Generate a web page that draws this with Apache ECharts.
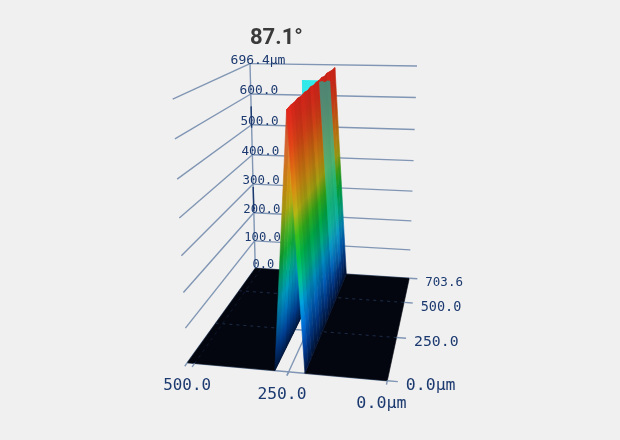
<!DOCTYPE html>
<html>
<head>
<meta charset="utf-8">
<style>
  html, body { margin: 0; padding: 0; background: #f0f0f0; }
  #chart { width: 620px; height: 440px; filter: blur(0.5px); }
</style>
<script src="https://cdn.jsdelivr.net/npm/echarts@6/dist/echarts.min.js"></script>
</head>
<body>
<div id="chart"></div>
<script>
// axis ranges in um
const xMax = 520;
const yMax = 703.6;
const zMax = 696.4;

const xTicks = [0, 250, 500];
const xTickLabels = ['0.0µm', '250.0', '500.0'];
const yTicks = [0, 250, 500, 703.6];
const yTickLabels = ['0.0µm', '250.0', '500.0', '703.6'];
const zTicks = [0, 100, 200, 300, 400, 500, 600, 696.4];
const zTickLabels = ['0.0', '100.0', '200.0', '300.0', '400.0', '500.0', '600.0', '696.4µm'];

// ridge, one entry per y station
const ridgeY = [0, 44, 88, 132, 176, 220, 264, 308, 352, 396, 440, 484, 528, 572, 616, 660, 703.6];
const ridgeTopX = [247, 246, 248, 248, 249, 249, 250, 250, 251, 251, 252, 252, 252, 252, 252, 251, 250];
const ridgeTopZ = [678, 682, 680, 684, 681, 685, 682, 686, 683, 686, 684, 687, 684, 688, 686, 686, 688];
const rightFootX = [208, 208, 208, 208, 208, 208, 208, 208, 208, 208, 208, 208, 208, 208, 208, 208, 208];
const leftFootX = [286, 286, 286, 286, 286, 286, 286, 286, 286, 286, 286, 286, 286, 286, 286, 286, 286];
const rightShade = [1.28, 1.12, 1.0, 0.94, 1.06, 0.97, 0.9, 1.08, 0.96, 0.92, 1.08, 1.0, 0.92, 1.05, 0.96, 0.92, 0.84];
const leftShade = [0.9, 1.04, 1.1, 1.02, 0.98, 1.02, 0.96, 1.0, 1.0, 1.0, 1.0, 1.0, 1.0, 1.0, 1.0, 1.0, 1.0];

// height colours, low to high
const rightColors = ['#001030', '#003078', '#0058ac', '#0084b4', '#00a078', '#00a040', '#30a018', '#9a9a10',
  '#b87c10', '#c05c10', '#c63c14', '#c82a18', '#cc2218'];
const leftColors = ['#001840', '#003a88', '#0068ac', '#0090b0', '#00a078', '#10a030', '#50a820', '#a8a010',
  '#c89010', '#d87c20', '#e06a30', '#d84c28', '#d03020'];

// cyan cut plane at the back of the ridge
const cutPlaneX = [263, 354];
const cutPlaneTopZ = 648;
const stripFirst = 10;
const stripCap = [0.994, 0.985, 0.975, 0.968, 0.96];

const gridColor = '#8096b4';
const labelColor = '#1c3a70';
const floorColor = '#03060f';

// perspective camera fitted to the corners of the box
function depth(x, y, z) {
  const u = x / xMax, v = y / yMax, w = z / zMax;
  return 1 + 0.05073 * u + 0.3211 * v - 0.1044 * w;
}
function project(p) {
  const u = p[0] / xMax, v = p[1] / yMax, w = p[2] / zMax;
  const d = depth(p[0], p[1], p[2]);
  return [
    (387.3 - 190.5 * u + 153.42 * v - 33.36 * w) / d,
    (380.7 + 0.4 * u - 13.04 * v - 287.36 * w) / d
  ];
}

function shadeColor(color, k) {
  const c = echarts.color.parse(color);
  return 'rgb(' + [0, 1, 2].map(i => Math.min(255, Math.round(c[i] * k))).join(',') + ')';
}

// one polygon per y station, coloured by height along the slope
function sheetPolygons(footX, colors, shades) {
  const out = [];
  for (let i = 0; i < ridgeY.length - 1; i++) {
    const top = (ridgeTopZ[i] + ridgeTopZ[i + 1]) / 2;
    const stops = colors.map((c, k) => {
      const t = k / (colors.length - 1);
      return { offset: Math.min(1, t * zMax / top), color: shadeColor(c, 1 + (shades[i] - 1) * (1 - 0.6 * t)) };
    });
    out.push({
      points: [
        [footX[i], ridgeY[i], 0], [footX[i + 1], ridgeY[i + 1], 0],
        [ridgeTopX[i + 1], ridgeY[i + 1], ridgeTopZ[i + 1]], [ridgeTopX[i], ridgeY[i], ridgeTopZ[i]]
      ],
      stops: stops
    });
  }
  return out;
}

function columnGradient(px, stops) {
  const foot = [(px[0][0] + px[1][0]) / 2, (px[0][1] + px[1][1]) / 2];
  const top = [(px[2][0] + px[3][0]) / 2, (px[2][1] + px[3][1]) / 2];
  const across = [(px[1][0] + px[2][0] - px[0][0] - px[3][0]) / 2, (px[1][1] + px[2][1] - px[0][1] - px[3][1]) / 2];
  const n = Math.hypot(across[0], across[1]);
  const g = [-across[1] / n, across[0] / n];
  const len = (top[0] - foot[0]) * g[0] + (top[1] - foot[1]) * g[1];
  return new echarts.graphic.LinearGradient(foot[0], foot[1], foot[0] + g[0] * len, foot[1] + g[1] * len, stops, true);
}

function stripPolygon() {
  const caps = [], feet = [];
  stripCap.forEach((cap, k) => {
    const s = stripFirst + k;
    caps.push([rightFootX[s] + (ridgeTopX[s] - rightFootX[s]) * cap, ridgeY[s], ridgeTopZ[s] * cap]);
    feet.unshift([rightFootX[s] + (ridgeTopX[s] - rightFootX[s]) * 0.12, ridgeY[s], ridgeTopZ[s] * 0.12]);
  });
  return {
    points: caps.concat(feet),
    fill: new echarts.graphic.LinearGradient(0, 0, 0, 1, [
      { offset: 0, color: 'rgba(30,170,150,0.72)' },
      { offset: 0.45, color: 'rgba(30,190,170,0.6)' },
      { offset: 0.75, color: 'rgba(40,200,220,0.28)' },
      { offset: 1, color: 'rgba(40,200,220,0)' }
    ])
  };
}

function polygonSeries(name, z, polygons) {
  return {
    type: 'custom', name: name, coordinateSystem: 'cartesian2d', silent: true, animation: false, z: z,
    data: polygons.map((_, i) => [i]),
    renderItem: (params, api) => {
      const poly = polygons[params.dataIndex];
      const px = poly.points.map(p => api.coord(project(p)));
      const fill = poly.stops ? columnGradient(px, poly.stops) : poly.fill;
      return {
        type: 'polygon',
        shape: { points: px },
        style: { fill: fill, stroke: poly.stops || poly.solid ? fill : null, lineWidth: poly.stops || poly.solid ? 0.6 : 0 }
      };
    }
  };
}

function lineSeries(name, z, lines) {
  return {
    type: 'custom', name: name, coordinateSystem: 'cartesian2d', silent: true, animation: false, z: z,
    data: lines.map((_, i) => [i]),
    renderItem: (params, api) => {
      const l = lines[params.dataIndex];
      const a = api.coord(project(l.from)), b = api.coord(project(l.to));
      return {
        type: 'line',
        shape: { x1: a[0], y1: a[1], x2: b[0], y2: b[1] },
        style: { stroke: l.color || gridColor, lineWidth: l.width || 1.4, lineDash: l.dash || null }
      };
    }
  };
}

function labelSeries(name, z, labels) {
  return {
    type: 'custom', name: name, coordinateSystem: 'cartesian2d', silent: true, animation: false, z: z,
    data: labels.map((_, i) => [i]),
    renderItem: (params, api) => {
      const l = labels[params.dataIndex];
      const a = api.coord(project(l.at));
      return {
        type: 'text',
        x: a[0] + l.dx, y: a[1] + l.dy,
        style: {
          text: l.text, fill: labelColor, align: l.align, verticalAlign: 'middle',
          font: (16.5 / depth(l.at[0], l.at[1], l.at[2])).toFixed(1) + 'px "DejaVu Sans Mono"'
        }
      };
    }
  };
}

// walls, axis and the floor grid that shows through the notch
const backLines = [];
zTicks.forEach(z => {
  backLines.push({ from: [xMax, yMax, z], to: [0, yMax, z] });
  backLines.push({ from: [xMax, yMax, z], to: [xMax, 0, z] });
});
backLines.push({ from: [xMax, yMax, 0], to: [xMax, yMax, zMax] });
backLines.push({ from: [xMax, yMax, 490], to: [xMax, yMax, 560], color: '#1c3a70' });
backLines.push({ from: [xMax, yMax, 205], to: [xMax, yMax, 290], color: '#1c3a70' });
backLines.push({ from: [0, 0, 0], to: [xMax, 0, 0] });
backLines.push({ from: [250, -20, 0], to: [250, 250, 0] });
backLines.push({ from: [208, 250, 0], to: [286, 250, 0] });

const floorPolygons = [
  { points: [[0, 0, 0], [208, 0, 0], [208, yMax, 0], [0, yMax, 0]], fill: floorColor, solid: true },
  { points: [[286, 0, 0], [xMax, 0, 0], [xMax, yMax, 0], [286, yMax, 0]], fill: floorColor, solid: true }
];

const floorDash = [];
[250, 500].forEach(y => {
  floorDash.push({ from: [0, y, 0], to: [208, y, 0], color: '#1c2c48', width: 1, dash: [3, 4] });
  floorDash.push({ from: [286, y, 0], to: [xMax, y, 0], color: '#1c2c48', width: 1, dash: [3, 4] });
});
floorDash.push({ from: [500, 0, 0], to: [500, yMax, 0], color: '#10182c', width: 1, dash: [3, 4] });

const tickLines = [];
xTicks.forEach(x => tickLines.push({ from: [x, 0, 0], to: [x, -20, 0] }));
tickLines.push({ from: [xMax, 0, 0], to: [xMax, -20, 0] });
yTicks.forEach(y => tickLines.push({ from: [0, y, 0], to: [-26, y, 0] }));

const labels = [];
xTicks.forEach((x, i) => labels.push({ at: [x, -20, 0], text: xTickLabels[i], dx: -5, dy: 19, align: 'center' }));
yTicks.forEach((y, i) => labels.push({ at: [-26, y, 0], text: yTickLabels[i], dx: 8, dy: 4, align: 'left' }));
zTicks.forEach((z, i) => labels.push({ at: [xMax, yMax, z], text: zTickLabels[i], dx: 8, dy: -3, align: 'center' }));

const option = {
  backgroundColor: '#f0f0f0',
  animation: false,
  title: {
    text: '87.1°', left: 245, top: 22,
    textStyle: { color: '#3a3a3a', fontFamily: 'Roboto', fontWeight: 'bold', fontSize: 22 }
  },
  grid: { left: 0, right: 0, top: 0, bottom: 0 },
  xAxis: { type: 'value', min: 0, max: 620, show: false },
  yAxis: { type: 'value', min: 0, max: 440, inverse: true, show: false },
  series: [
    lineSeries('walls', 1, backLines),
    polygonSeries('cut plane', 2, [{
      points: [[cutPlaneX[0], yMax, 0], [cutPlaneX[1], yMax, 0], [cutPlaneX[1], yMax, cutPlaneTopZ], [cutPlaneX[0], yMax, cutPlaneTopZ]],
      fill: '#33e8e8'
    }]),
    polygonSeries('floor', 3, floorPolygons),
    lineSeries('floor grid', 4, floorDash),
    polygonSeries('left face', 5, sheetPolygons(leftFootX, leftColors, leftShade)),
    polygonSeries('right face', 6, sheetPolygons(rightFootX, rightColors, rightShade)),
    polygonSeries('section strip', 7, [stripPolygon()]),
    lineSeries('ticks', 8, tickLines),
    labelSeries('labels', 9, labels)
  ]
};

const chart = echarts.init(document.getElementById('chart'), null, { renderer: 'canvas' });
chart.setOption(option);
</script>
</body>
</html>
